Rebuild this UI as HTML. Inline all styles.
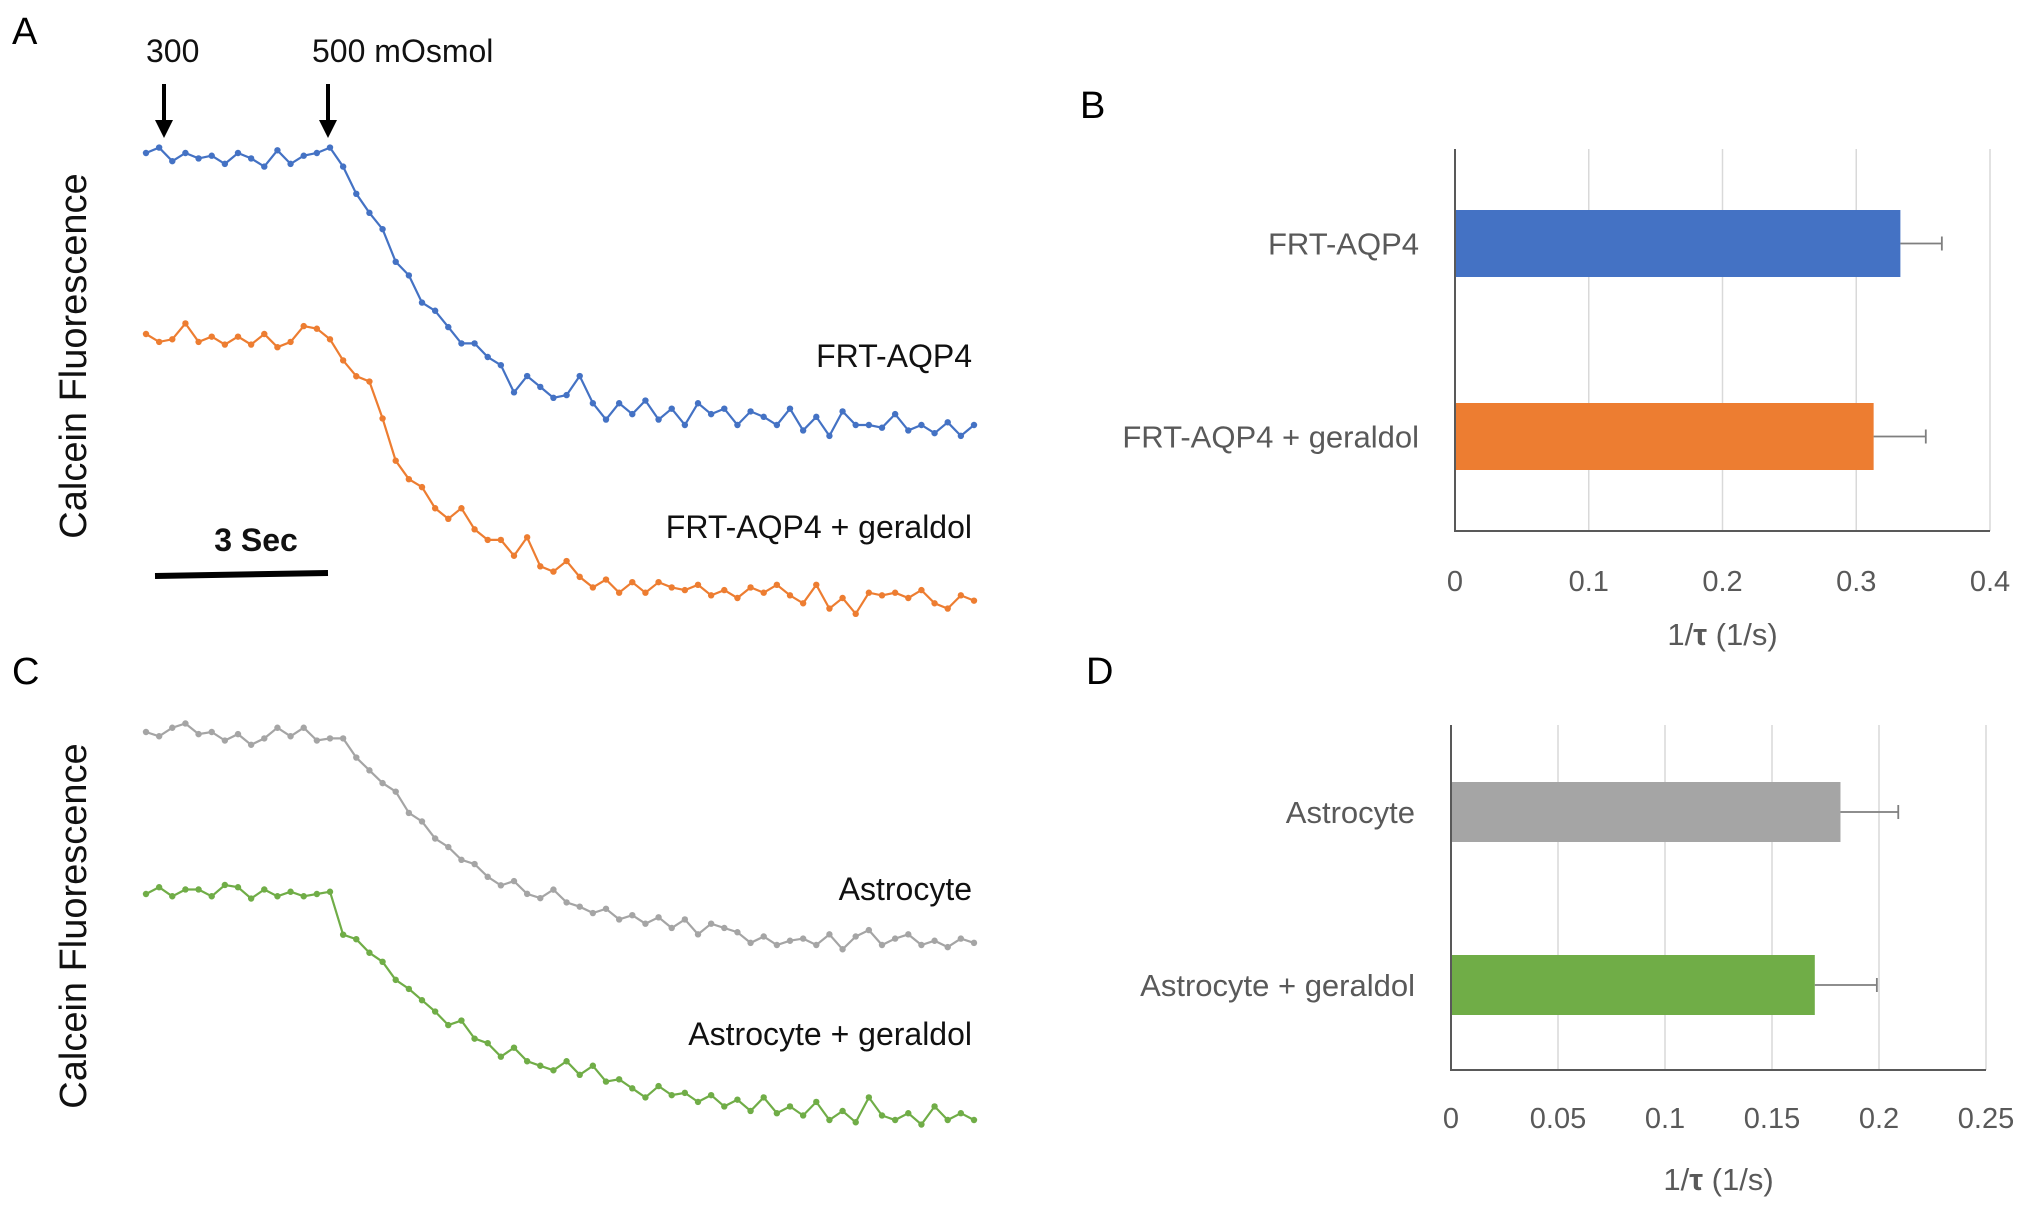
<!DOCTYPE html>
<html><head><meta charset="utf-8"><style>
body{margin:0;background:#fff}
svg{display:block;font-family:"Liberation Sans",sans-serif}
</style></head><body>
<svg id="fig" width="2031" height="1211" viewBox="0 0 2031 1211">
<g font-size="38" fill="#000">
<text x="12" y="44">A</text>
<text x="12" y="684">C</text>
<text x="1080" y="118">B</text>
<text x="1086" y="684">D</text>
</g>
<g fill="#111">
<text x="146" y="62" font-size="32">300</text>
<text x="312" y="62" font-size="32">500 mOsmol</text>
<g><line x1="164" y1="84" x2="164" y2="124" stroke="#000" stroke-width="4"/><polygon points="155,120 173,120 164,138" fill="#000"/></g>
<g><line x1="328" y1="84" x2="328" y2="124" stroke="#000" stroke-width="4"/><polygon points="319,120 337,120 328,138" fill="#000"/></g>
<text x="256" y="551" font-size="32" text-anchor="middle" font-weight="bold">3 Sec</text>
<line x1="155" y1="576" x2="328" y2="573" stroke="#000" stroke-width="6"/>
<text transform="translate(86,356) rotate(-90)" font-size="38" text-anchor="middle">Calcein Fluorescence</text>
<text transform="translate(86,926) rotate(-90)" font-size="38" text-anchor="middle">Calcein Fluorescence</text>
<text x="972" y="367" font-size="32" text-anchor="end">FRT-AQP4</text>
<text x="972" y="538" font-size="32" text-anchor="end">FRT-AQP4 + geraldol</text>
<text x="972" y="900" font-size="32" text-anchor="end">Astrocyte</text>
<text x="972" y="1045" font-size="32" text-anchor="end">Astrocyte + geraldol</text>
</g>
<g id="traces"></g>
<g id="barsB"></g>
<g id="barsD"></g>
</svg>
<script>
const blueVals=[1.0,1.02,0.97,1.0,0.98,0.99,0.96,1.0,0.98,0.95,1.01,0.96,0.99,1.0,1.02,0.95,0.85,0.78,0.72,0.6,0.55,0.45,0.42,0.36,0.30,0.30,0.25,0.22,0.12,0.18,0.14,0.10,0.11,0.18,0.08,0.02,0.08,0.04,0.09,0.02,0.06,0.0,0.08,0.04,0.06,0.0,0.05,0.03,0.0,0.06,-0.02,0.03,-0.04,0.05,0.0,0.0,-0.01,0.04,-0.02,0.0,-0.03,0.01,-0.04,0.0];
const orangeVals=[1.0,0.97,0.98,1.04,0.97,0.99,0.96,0.99,0.96,1.0,0.95,0.97,1.03,1.02,0.98,0.90,0.84,0.82,0.68,0.52,0.45,0.42,0.34,0.30,0.34,0.26,0.22,0.22,0.16,0.23,0.12,0.10,0.14,0.08,0.04,0.07,0.02,0.06,0.02,0.06,0.04,0.03,0.05,0.01,0.03,0.0,0.04,0.02,0.05,0.01,-0.02,0.05,-0.04,0.0,-0.06,0.02,0.01,0.02,0.0,0.03,-0.02,-0.04,0.01,-0.01];
const grayVals=[1.0,0.98,1.02,1.04,0.99,1.0,0.96,0.99,0.94,0.97,1.02,0.98,1.02,0.96,0.97,0.97,0.88,0.82,0.76,0.72,0.62,0.58,0.50,0.46,0.40,0.38,0.32,0.28,0.30,0.24,0.22,0.26,0.20,0.18,0.15,0.17,0.12,0.14,0.10,0.13,0.08,0.12,0.05,0.10,0.08,0.06,0.01,0.04,0.0,0.02,0.03,0.0,0.05,-0.02,0.04,0.07,0.0,0.03,0.05,0.0,0.02,-0.01,0.03,0.01];
const greenVals=[1.0,1.03,0.99,1.02,1.02,0.99,1.04,1.03,0.98,1.02,0.99,1.01,0.99,1.0,1.01,0.82,0.80,0.74,0.70,0.62,0.58,0.53,0.48,0.42,0.44,0.36,0.34,0.28,0.32,0.26,0.24,0.22,0.26,0.20,0.24,0.17,0.18,0.14,0.10,0.15,0.11,0.12,0.08,0.11,0.06,0.09,0.04,0.10,0.03,0.06,0.02,0.08,0.0,0.04,-0.01,0.10,0.02,0.0,0.03,-0.02,0.06,0.0,0.03,0.0];
const seriesList=[
 {name:'frt-aqp4',vals:blueVals,color:'#4472C4',y0:153,y1:425},
 {name:'frt-aqp4-geraldol',vals:orangeVals,color:'#ED7D31',y0:334,y1:598},
 {name:'astrocyte',vals:grayVals,color:'#A5A5A5',y0:732,y1:945},
 {name:'astrocyte-geraldol',vals:greenVals,color:'#70AD47',y0:894,y1:1120}];
const NS='http://www.w3.org/2000/svg';
function mk(t,a,p){const e=document.createElementNS(NS,t);for(const k in a)e.setAttribute(k,a[k]);p.appendChild(e);return e;}
const tg=document.getElementById('traces');
const xT=(i,n)=>146+i*(974-146)/(n-1);
seriesList.forEach(s=>{
 const g=mk('g',{},tg);
 
 
 const yT=v=>s.y1+(s.y0-s.y1)*v;
 const pts=s.vals.map((v,i)=>xT(i,s.vals.length).toFixed(1)+','+yT(v).toFixed(1)).join(' ');
 const pl=mk('polyline',{points:pts,fill:'none',stroke:s.color,'stroke-width':2.2},g);
 
 
 s.vals.forEach((v,i)=>{const c=mk('circle',{cx:xT(i,s.vals.length),cy:yT(v),r:3.2,fill:s.color},g);
  
  });
});
const bCats=['FRT-AQP4','FRT-AQP4 + geraldol'];
const bVals=[0.333,0.313];
const bErr=[0.031,0.039];
const bTicks=['0','0.1','0.2','0.3','0.4'];
const dCats=['Astrocyte','Astrocyte + geraldol'];
const dVals=[0.182,0.170];
const dErr=[0.027,0.029];
const dTicks=['0','0.05','0.1','0.15','0.2','0.25'];
function bar(gid,cats,vals,errs,ticks,max,L,R,T,B,barY,barH,colors,tickY,titleY,id){
 const g=document.getElementById(gid);
 const x=v=>L+(R-L)*v/max;
 ticks.forEach(t=>{const v=parseFloat(t);
  if(v>0){const gl=mk('line',{x1:x(v),x2:x(v),y1:T,y2:B,stroke:'#d9d9d9','stroke-width':1.5},g);
   
   }
  const tx=mk('text',{x:x(v),y:tickY,'font-size':29,fill:'#595959','text-anchor':'middle'},g);tx.textContent=t;
  
  });
 cats.forEach((c,i)=>{
  const r=mk('rect',{x:L,y:barY[i],width:x(vals[i])-L,height:barH,fill:colors[i]},g);
  
  
  const cy=barY[i]+barH/2, xe=x(vals[i]+errs[i]);
  const e=mk('path',{d:`M${x(vals[i])},${cy}H${xe}M${xe},${cy-7}V${cy+7}`,stroke:'#7f7f7f','stroke-width':1.8,fill:'none'},g);
  
  
  const t=mk('text',{x:L-36,y:cy+11,'font-size':31,fill:'#595959','text-anchor':'end'},g);t.textContent=c;
  
  });
 const ax=mk('path',{d:`M${L},${T}V${B}H${R}`,stroke:'#595959','stroke-width':2,fill:'none'},g);
 
 
 const tt=mk('text',{x:(L+R)/2,y:titleY,'font-size':31,fill:'#595959','text-anchor':'middle'},g);
 tt.innerHTML='1/<tspan font-weight="bold">τ</tspan> (1/s)';
 
 
}
bar('barsB',bCats,bVals,bErr,bTicks,0.4,1455,1990,149,531,[210,403],67,['#4472C4','#ED7D31'],591,645,'b');
bar('barsD',dCats,dVals,dErr,dTicks,0.25,1451,1986,725,1070,[782,955],60,['#A5A5A5','#70AD47'],1128,1190,'d');
</script>
</body></html>
